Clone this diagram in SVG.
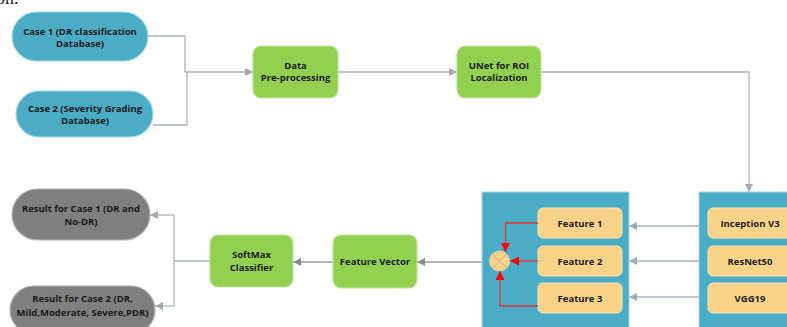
<svg xmlns="http://www.w3.org/2000/svg" width="787" height="327" viewBox="0 0 787 327">
<defs>
<style>
.t{font-family:"Open Sans","DejaVu Sans",sans-serif;font-weight:700;font-size:9.5px;fill:#1a1a1a;text-anchor:middle}
.teal{fill:#4BACC6;stroke:#A9D6E3;stroke-width:1.2}
.green{fill:#92D050;stroke:#BFE0A4;stroke-width:1.2}
.grey{fill:#7F7F7F;stroke:#B0B0B0;stroke-width:1.2}
.feat{fill:#FAD389;stroke:#FCE3B6;stroke-width:1}
.c{fill:none;stroke:#A8B3BC;stroke-width:1.3}
.cd{fill:none;stroke:#9A9A9A;stroke-width:1.3}
.r{fill:none;stroke:#E8343F;stroke-width:1.3}
</style>
<marker id="a" viewBox="0 0 10 10" refX="10" refY="5" markerWidth="8" markerHeight="8" markerUnits="userSpaceOnUse" orient="auto"><path d="M0,0 L10,5 L0,10 z" fill="#A0ABB5"/></marker>
<marker id="ad" viewBox="0 0 10 10" refX="10" refY="5" markerWidth="8" markerHeight="8" markerUnits="userSpaceOnUse" orient="auto"><path d="M0,0 L10,5 L0,10 z" fill="#8A8A8A"/></marker>
<marker id="ar" viewBox="0 0 10 10" refX="10" refY="5" markerWidth="9" markerHeight="9" markerUnits="userSpaceOnUse" orient="auto"><path d="M0,0 L10,5 L0,10 z" fill="#FF0000"/></marker>
</defs>
<text x="-4" y="4" font-family="Liberation Serif,serif" font-size="18" fill="#222">on.</text>

<g id="connectors">
<path class="c" d="M148,36 H185 V72"/>
<path class="c" d="M153,125 H187 V72"/>
<path class="c" d="M185,72 H253" marker-end="url(#a)"/>
<path class="c" d="M338,72 H457" marker-end="url(#a)"/>
<path class="c" d="M541,72 H749 V192" marker-end="url(#a)"/>
<path class="c" d="M699,226 H629" marker-end="url(#a)"/>
<path class="c" d="M699,261 H629" marker-end="url(#a)"/>
<path class="c" d="M699,297 H629" marker-end="url(#a)"/>
<path class="cd" d="M489,262 H417" marker-end="url(#ad)"/>
<path class="cd" d="M333,262 H293" marker-end="url(#ad)"/>
<path class="c" d="M210,261 H174"/>
<path class="c" d="M174,215 V306"/>
<path class="c" d="M174,215 H150" marker-end="url(#a)"/>
<path class="c" d="M174,306 H155" marker-end="url(#a)"/>
</g>

<g id="case1"><rect class="teal" x="12" y="12" width="136" height="49" rx="24.5"/><text class="t" x="80" y="35">Case 1 (DR classification</text><text class="t" x="80" y="47">Database)</text></g>
<g id="case2"><rect class="teal" x="16" y="91" width="137" height="46" rx="23"/><text class="t" x="85" y="112">Case 2 (Severity Grading</text><text class="t" x="85" y="124">Database)</text></g>
<g id="preproc"><rect class="green" x="253" y="46" width="85" height="52" rx="8"/><text class="t" x="295.5" y="69">Data</text><text class="t" x="295.5" y="81">Pre-processing</text></g>
<g id="unet"><rect class="green" x="457" y="46" width="84" height="52" rx="8"/><text class="t" x="499" y="69">UNet for ROI</text><text class="t" x="499" y="81">Localization</text></g>

<g id="models">
<rect x="699" y="192" width="100" height="145" fill="#4BACC6" stroke="#A9D6E3" stroke-width="1"/>
<g id="inception"><rect class="feat" x="708" y="208" width="90" height="30" rx="5"/><text class="t" x="750" y="226.5">Inception V3</text></g>
<g id="resnet"><rect class="feat" x="708" y="246" width="90" height="30" rx="5"/><text class="t" x="750" y="264.5">ResNet50</text></g>
<g id="vgg"><rect class="feat" x="708" y="283" width="90" height="30" rx="5"/><text class="t" x="750" y="301.5">VGG19</text></g>
</g>

<g id="fusion">
<rect x="482" y="192" width="147" height="145" fill="#4BACC6" stroke="#A9D6E3" stroke-width="1"/>
<g id="f1"><rect class="feat" x="538" y="208" width="84" height="30" rx="5"/><text class="t" x="580" y="226.5">Feature 1</text></g>
<g id="f2"><rect class="feat" x="538" y="246" width="84" height="30" rx="5"/><text class="t" x="580" y="264.5">Feature 2</text></g>
<g id="f3"><rect class="feat" x="538" y="283" width="84" height="30" rx="5"/><text class="t" x="580" y="301.5">Feature 3</text></g>
<g id="combine"><circle cx="499.5" cy="261" r="10" fill="#FAD389" stroke="#F0D8A8" stroke-width="0.8"/><path d="M492.4,253.9 L506.6,268.1 M506.6,253.9 L492.4,268.1" stroke="#C4A46E" stroke-width="0.8"/></g>
<path class="r" d="M538,223 H505.5 V252" marker-end="url(#ar)"/>
<path class="r" d="M538,261 H510" marker-end="url(#ar)"/>
<path class="r" d="M538,306 H500 V271" marker-end="url(#ar)"/>
</g>

<g id="featvec"><rect class="green" x="333" y="235" width="84" height="53" rx="8"/><text class="t" x="375" y="265">Feature Vector</text></g>
<g id="softmax"><rect class="green" x="210" y="235" width="83" height="52" rx="8"/><text class="t" x="251.5" y="258">SoftMax</text><text class="t" x="251.5" y="271">Classifier</text></g>
<g id="result1"><rect class="grey" x="12" y="189" width="138" height="51" rx="25.5"/><text class="t" x="81" y="212">Result for Case 1 (DR and</text><text class="t" x="81" y="225">No-DR)</text></g>
<g id="result2"><rect class="grey" x="10" y="286" width="145" height="48" rx="24"/><text class="t" x="82.5" y="302">Result for Case 2 (DR,</text><text class="t" x="82.5" y="316">Mild,Moderate, Severe,PDR)</text></g>
</svg>
